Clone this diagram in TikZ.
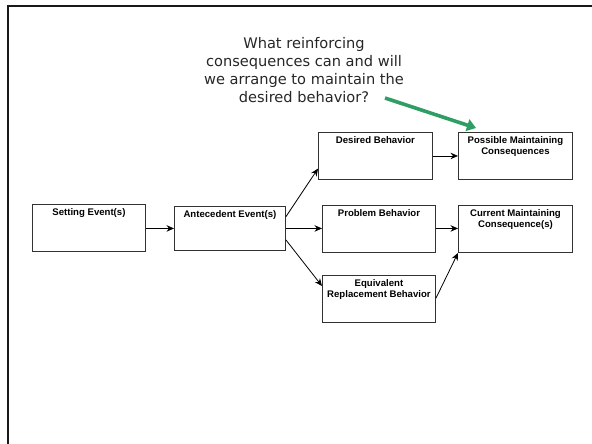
\documentclass[tikz,border=0pt]{standalone}
\usepackage{fontspec}
\setmainfont{Liberation Sans}
\newfontfamily\qfont{DejaVu Sans}
\usetikzlibrary{arrows.meta,calc}
\definecolor{qgreen}{RGB}{46,158,100}
\definecolor{boxline}{RGB}{50,50,50}
\tikzset{
  box/.style={draw=boxline, line width=0.9pt, minimum width=113pt, minimum height=47pt,
    inner sep=0pt, anchor=north west},
  boxtext/.style={anchor=north, inner sep=0pt, align=center,
    font=\fontsize{9.6}{11.5}\selectfont\bfseries},
  conn/.style={draw=black, line width=0.8pt, -{Stealth[length=7.5pt,width=6.5pt,inset=2.5pt]}},
  frame/.style={draw=black!90, line width=2.6pt},
  hint/.style={draw=qgreen, line width=3.6pt, -{Triangle[length=9pt,width=12pt]}}
}
\begin{document}
\begin{tikzpicture}[x=1pt,y=-1pt]
  \useasboundingbox (0,0) rectangle (592,444);
  % slide frame
  \draw[frame] (8,446) -- (8,6) -- (594,6);

  % question text
  \node[align=center, text=black!85, font=\qfont\fontsize{14.6}{18}\selectfont, anchor=north]
    (q) at (304,34) {What reinforcing\\consequences can and will\\we arrange to maintain the\\desired behavior?};

  % boxes
  \node[box, minimum height=47pt] (set) at (32,204) {};
  \node[box, minimum width=111pt, minimum height=44pt] (ant) at (174,206) {};
  \node[box, minimum width=114pt] (des) at (318,132) {};
  \node[box, minimum width=114pt] (pos) at (458,132) {};
  \node[box] (prob) at (322,205) {};
  \node[box, minimum width=114pt] (cur) at (458,205) {};
  \node[box] (equ) at (322,275) {};

  % box captions
  \node[boxtext] (setL)  at ($(set.north)+(0,4)$)  {Setting Event(s)};
  \node[boxtext] (antL)  at ($(ant.north)+(0,4)$)  {Antecedent Event(s)};
  \node[boxtext] (desL)  at ($(des.north)+(0,4)$)  {Desired Behavior};
  \node[boxtext] (posL)  at ($(pos.north)+(0,4)$)  {Possible Maintaining\\Consequences};
  \node[boxtext] (probL) at ($(prob.north)+(0,4)$) {Problem Behavior};
  \node[boxtext] (curL)  at ($(cur.north)+(0,4)$)  {Current Maintaining\\Consequence(s)};
  \node[boxtext] (equL)  at ($(equ.north)+(0,4)$)  {Equivalent\\Replacement Behavior};

  % connectors
  \draw[conn] (ant.west -| set.east) -- (ant.west);
  \draw[conn] ($(ant.north east)+(0,10.7)$) -- ($(des.south west)+(0,-11.3)$);
  \draw[conn] (ant.east) -- (ant.east -| prob.west);
  \draw[conn] ($(ant.south east)+(0,-11)$) -- ($(equ.north west)+(0,11)$);
  \draw[conn] (des.east) -- (pos.west);
  \draw[conn] (ant.east -| prob.east) -- (ant.east -| cur.west);
  \draw[conn] ($(equ.north east)+(0,23.3)$) -- (cur.south west);

  % pointer from the question to the consequences box
  \coordinate (qs) at (385,98);
  \draw[hint] (qs) -- ($(pos.north west)+(18,-4)$);
\end{tikzpicture}
\end{document}
